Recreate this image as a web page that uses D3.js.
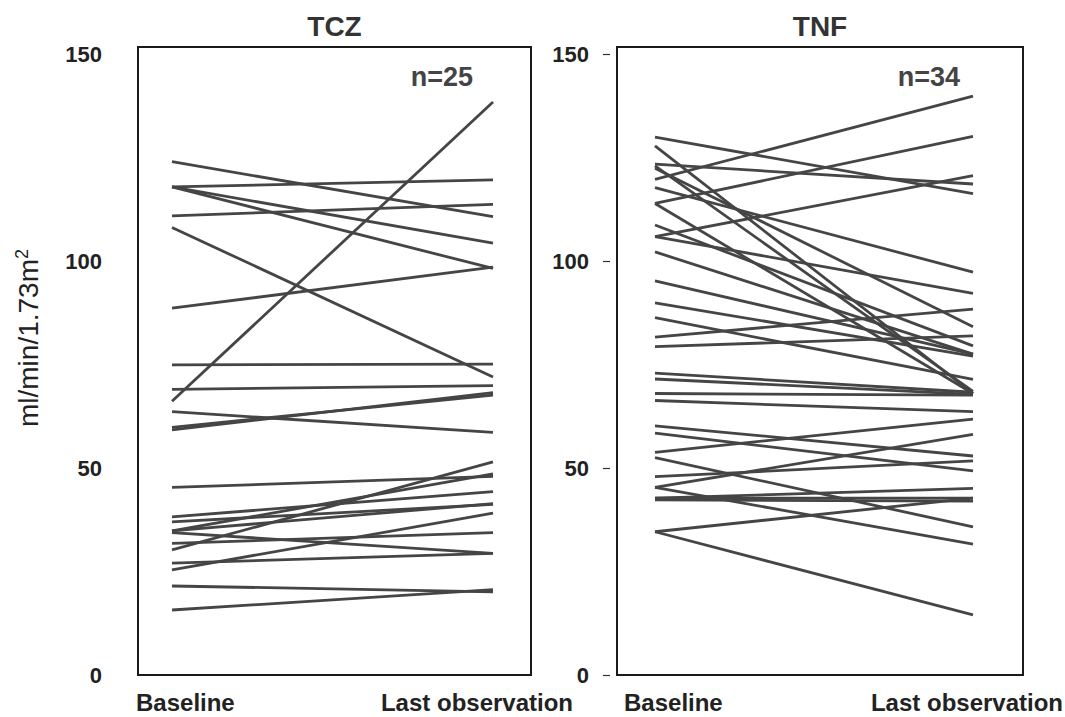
<!DOCTYPE html>
<html>
<head>
<meta charset="utf-8">
<script src="https://cdn.jsdelivr.net/npm/d3@7"></script>
<style>
  body { margin: 0; background: #fff; }
  svg { display: block; font-family: Arial, "Liberation Sans", Helvetica, sans-serif; }
</style>
</head>
<body>
<svg id="chart" width="1065" height="717"></svg>
<script>
// categories on the x axis
var timepoints = ["Baseline", "Last observation"];
var yTicks = [0, 50, 100, 150];

// TCZ group, eGFR per patient (n=25)
var tczBaseline = [124.0, 117.9, 117.9, 117.9, 110.9, 108.1, 88.6, 74.9, 66.1, 69.0, 63.6, 59.2, 59.8,
  45.3, 38.2, 37.0, 34.8, 34.8, 34.4, 31.8, 30.2, 27.0, 25.4, 21.5, 15.7];
var tczLast = [110.7, 119.6, 104.3, 98.2, 113.7, 72.0, 98.5, 75.1, 138.4, 69.9, 58.6, 68.2, 67.6,
  48.0, 44.3, 41.2, 48.6, 41.4, 29.4, 34.4, 51.5, 29.4, 39.1, 20.1, 20.6];

// TNF group (n=34)
var tnfBaseline = [129.9, 127.8, 123.4, 123.0, 122.4, 119.7, 117.7, 113.9, 113.9, 108.7, 105.9, 105.9,
  102.2, 95.2, 89.9, 86.3, 81.6, 79.3, 72.9, 71.5, 68.0, 66.3, 60.2, 58.4, 53.8, 52.5, 47.9, 45.3,
  45.3, 42.7, 42.7, 42.3, 34.6, 34.6];
var tnfLast = [116.3, 68.0, 118.6, 68.5, 84.1, 139.8, 97.3, 130.1, 68.0, 79.5, 120.6, 92.2,
  77.5, 77.5, 77.0, 71.4, 88.4, 81.9, 68.3, 67.8, 67.6, 63.6, 52.9, 49.3, 61.8, 35.8, 51.7, 58.1,
  31.6, 45.1, 42.7, 42.0, 14.5, 42.7];

var svg = d3.select("#chart");

var y = d3.scaleLinear().domain([0, 150]).range([675, 54]);
var boxTop = 47, boxBottom = 675;

var panels = [
  { title: "TCZ", n: "n=25", base: tczBaseline, last: tczLast,
    box: [138, 531], lines: [172, 493], nx: 473, ticks: false,
    labelX: [136, 573] },
  { title: "TNF", n: "n=34", base: tnfBaseline, last: tnfLast,
    box: [617, 1023], lines: [655, 973], nx: 960, ticks: true,
    labelX: [624, 1063] }
];

panels.forEach(function(p) {
  var g = svg.append("g");
  var x = d3.scalePoint().domain(timepoints).range(p.lines);

  var pairs = p.base.map(function(b, i) { return [b, p.last[i]]; });

  var line = d3.line()
      .x(function(d, i) { return x(timepoints[i]); })
      .y(function(d) { return y(d); });

  g.selectAll("path.subject")
      .data(pairs)
      .enter().append("path")
      .attr("class", "subject")
      .attr("d", line)
      .attr("fill", "none")
      .attr("stroke", "#454545")
      .attr("stroke-width", 2.8);

  g.append("rect")
      .attr("x", p.box[0])
      .attr("y", boxTop)
      .attr("width", p.box[1] - p.box[0])
      .attr("height", boxBottom - boxTop)
      .attr("fill", "none")
      .attr("stroke", "#1a1a1a")
      .attr("stroke-width", 2);

  // y axis
  var axis, ax;
  if (p.ticks) {
    axis = d3.axisLeft(y).tickValues(yTicks).tickSize(7).tickPadding(14);
    ax = g.append("g").attr("transform", "translate(610,0)").call(axis);
  } else {
    axis = d3.axisLeft(y).tickValues(yTicks).tickSize(0).tickPadding(0);
    ax = g.append("g").attr("transform", "translate(102,0)").call(axis);
  }
  ax.select(".domain").remove();
  ax.selectAll(".tick line").attr("stroke", "#333").attr("stroke-width", 1.2);
  ax.selectAll(".tick text")
      .attr("font-family", "Arial, 'Liberation Sans', sans-serif")
      .attr("font-size", 22)
      .attr("font-weight", "bold")
      .attr("fill", "#222");

  // title
  g.append("text")
      .attr("x", (p.box[0] + p.box[1]) / 2)
      .attr("y", 36)
      .attr("text-anchor", "middle")
      .attr("font-size", 28)
      .attr("font-weight", "bold")
      .attr("fill", "#333")
      .text(p.title);

  g.append("text")
      .attr("x", p.nx)
      .attr("y", 86)
      .attr("text-anchor", "end")
      .attr("font-size", 27)
      .attr("font-weight", "bold")
      .attr("fill", "#444")
      .text(p.n);

  // x labels
  g.append("text")
      .attr("x", p.labelX[0])
      .attr("y", 711)
      .attr("text-anchor", "start")
      .attr("font-size", 24)
      .attr("font-weight", "bold")
      .attr("fill", "#222")
      .text(timepoints[0]);
  g.append("text")
      .attr("x", p.labelX[1])
      .attr("y", 711)
      .attr("text-anchor", "end")
      .attr("font-size", 24)
      .attr("font-weight", "bold")
      .attr("fill", "#222")
      .text(timepoints[1]);
});

// y axis title
var yt = svg.append("text")
    .attr("transform", "translate(38,338) rotate(-90)")
    .attr("text-anchor", "middle")
    .attr("font-size", 28)
    .attr("fill", "#222");
yt.append("tspan").text("ml/min/1.73m");
yt.append("tspan").attr("baseline-shift", "super").attr("font-size", 18).text("2");
</script>
</body>
</html>
